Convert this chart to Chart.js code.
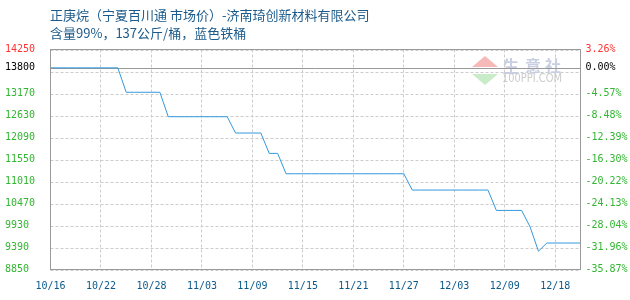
<!DOCTYPE html>
<html>
<head>
<meta charset="utf-8">
<script src="https://cdn.jsdelivr.net/npm/chart.js@4/dist/chart.umd.min.js"></script>
<style>
  body { margin: 0; background: #fff; }
</style>
</head>
<body>
<canvas id="priceChart" width="630" height="300"></canvas>
<script>
const titleLines = ['正庚烷（宁夏百川通 市场价）-济南琦创新材料有限公司', '含量99%，137公斤/桶，蓝色铁桶']

const dates = [
  '10/16', '10/17', '10/18', '10/19', '10/20', '10/21', '10/22', '10/23', '10/24', '10/25',
  '10/26', '10/27', '10/28', '10/29', '10/30', '10/31', '11/01', '11/02', '11/03', '11/04',
  '11/05', '11/06', '11/07', '11/08', '11/09', '11/10', '11/11', '11/12', '11/13', '11/14',
  '11/15', '11/16', '11/17', '11/18', '11/19', '11/20', '11/21', '11/22', '11/23', '11/24',
  '11/25', '11/26', '11/27', '11/28', '11/29', '11/30', '12/01', '12/02', '12/03', '12/04',
  '12/05', '12/06', '12/07', '12/08', '12/09', '12/10', '12/11', '12/12', '12/15', '12/17',
  '12/18', '12/19', '12/22', '12/23'
]

const prices = [
  13800, 13800, 13800, 13800, 13800, 13800, 13800, 13800, 13800, 13200,
  13200, 13200, 13200, 13200, 12600, 12600, 12600, 12600, 12600, 12600,
  12600, 12600, 12200, 12200, 12200, 12200, 11700, 11700, 11200, 11200,
  11200, 11200, 11200, 11200, 11200, 11200, 11200, 11200, 11200, 11200,
  11200, 11200, 11200, 10800, 10800, 10800, 10800, 10800, 10800, 10800,
  10800, 10800, 10800, 10300, 10300, 10300, 10300, 9900, 9300, 9500,
  9500, 9500, 9500, 9500
]

// reference price (0.00%) and the tick values of the price axis
const basePrice = 13800
const yTicks = [8850, 9390, 9930, 10470, 11010, 11550, 12090, 12630, 13170, 13710, 13800, 14250]
const hiddenTicks = [13710]
const labelEvery = 6

const yMin = yTicks[0]
const yMax = yTicks[yTicks.length - 1]
const tickFont = {family: 'DejaVu Sans Mono', size: 10}

function tickColor(v) {
  if (v === yMax) return '#ff3333'
  if (v === basePrice) return '#000000'
  return '#33b633'
}

// dashed grid taken from the scales' own ticks
const dashedGrid = {
  id: 'dashedGrid',
  beforeDatasetsDraw(chart) {
    const {ctx, chartArea: {left, right, top, bottom}, scales: {x, y}} = chart
    ctx.save()
    ctx.strokeStyle = '#cccccc'
    ctx.lineWidth = 1
    ctx.setLineDash([3, 2])
    ctx.beginPath()
    x.ticks.forEach(t => {
      const px = Math.floor(x.getPixelForValue(t.value)) + 0.5
      ctx.moveTo(px, top)
      ctx.lineTo(px, bottom)
    })
    y.ticks.forEach(t => {
      if (t.value === basePrice) return
      const py = Math.round(y.getPixelForValue(t.value)) + 0.5
      ctx.moveTo(left, py)
      ctx.lineTo(right, py)
    })
    ctx.stroke()
    ctx.restore()
  }
}

const baseLine = {
  id: 'baseLine',
  beforeDatasetsDraw(chart) {
    const {ctx, chartArea: {left, right}, scales: {y}} = chart
    const py = Math.round(y.getPixelForValue(basePrice)) + 0.5
    ctx.save()
    ctx.strokeStyle = '#999999'
    ctx.lineWidth = 1
    ctx.beginPath()
    ctx.moveTo(left, py)
    ctx.lineTo(right, py)
    ctx.stroke()
    ctx.restore()
  }
}

const chartAreaBorder = {
  id: 'chartAreaBorder',
  afterDraw(chart) {
    const {ctx, chartArea: {left, top, width, height}} = chart
    ctx.save()
    ctx.strokeStyle = '#999999'
    ctx.lineWidth = 1
    ctx.strokeRect(left, top, width, height)
    ctx.restore()
  }
}

const watermark = {
  id: 'watermark',
  beforeDatasetsDraw(chart) {
    const ctx = chart.ctx
    ctx.save()
    ctx.fillStyle = '#f6b9b9'
    ctx.beginPath()
    ctx.moveTo(485, 56)
    ctx.lineTo(498, 67)
    ctx.lineTo(472, 67)
    ctx.closePath()
    ctx.fill()
    ctx.fillStyle = '#c8ebc8'
    ctx.beginPath()
    ctx.moveTo(472, 74)
    ctx.lineTo(498, 74)
    ctx.lineTo(485, 85)
    ctx.closePath()
    ctx.fill()
    ctx.fillStyle = '#c9cfe2'
    ctx.font = 'bold 16px "Noto Sans CJK SC"'
    ctx.textAlign = 'center'
    ctx.textBaseline = 'middle'
    ctx.fillText('生', 511, 66)
    ctx.fillText('意', 533, 66)
    ctx.fillText('社', 553, 66)
    ctx.fillStyle = '#cccccc'
    ctx.font = '12px "DejaVu Sans"'
    ctx.textAlign = 'left'
    ctx.fillText('100PPI.COM', 502, 79, 60)
    ctx.restore()
  }
}

const titleText = {
  id: 'titleText',
  afterDraw(chart) {
    const ctx = chart.ctx
    ctx.save()
    ctx.fillStyle = '#1b5a8a'
    ctx.font = '13px "Noto Sans CJK SC"'
    ctx.textAlign = 'left'
    ctx.textBaseline = 'middle'
    ctx.fillText(titleLines[0], 50, 15)
    ctx.fillText(titleLines[1], 50, 33)
    ctx.restore()
  }
}

const data = {
  labels: dates,
  datasets: [{
    label: '正庚烷',
    data: prices,
    borderColor: '#3399dd',
    backgroundColor: '#3399dd',
    borderWidth: 1,
    pointRadius: 0,
    tension: 0,
    fill: false,
    yAxisID: 'y'
  }]
}

const config = {
  type: 'line',
  data: data,
  options: {
    responsive: false,
    animation: false,
    layout: {padding: {left: 5, top: 49.5, right: 0, bottom: 0}},
    scales: {
      x: {
        offset: false,
        afterBuildTicks: axis => { axis.ticks = axis.ticks.filter(t => t.value % labelEvery === 0) },
        afterFit: axis => { axis.height = 30.5 },
        grid: {display: false, drawTicks: false},
        border: {display: false},
        ticks: {autoSkip: false, maxRotation: 0, padding: 11, color: '#0c5a8c', font: tickFont}
      },
      y: {
        position: 'left',
        min: yMin,
        max: yMax,
        afterBuildTicks: axis => { axis.ticks = yTicks.map(v => ({value: v})) },
        afterFit: axis => { axis.width = 45.5 },
        grid: {display: false, drawTicks: false},
        border: {display: false},
        ticks: {
          autoSkip: false,
          crossAlign: 'far',
          padding: 0,
          font: tickFont,
          color: ctx => tickColor(ctx.tick.value),
          callback: v => hiddenTicks.includes(v) ? '' : String(v)
        }
      },
      y2: {
        position: 'right',
        min: yMin,
        max: yMax,
        afterBuildTicks: axis => { axis.ticks = yTicks.map(v => ({value: v})) },
        afterFit: axis => { axis.width = 49.5 },
        grid: {display: false, drawTicks: false},
        border: {display: false},
        ticks: {
          autoSkip: false,
          padding: 5,
          font: tickFont,
          color: ctx => tickColor(ctx.tick.value),
          callback: v => hiddenTicks.includes(v) ? '' : ((v - basePrice) / basePrice * 100).toFixed(2) + '%'
        }
      }
    },
    plugins: {legend: {display: false}, tooltip: {enabled: false}}
  },
  plugins: [dashedGrid, watermark, baseLine, chartAreaBorder, titleText]
}

const priceChart = new Chart(document.getElementById('priceChart'), config)
</script>
</body>
</html>
